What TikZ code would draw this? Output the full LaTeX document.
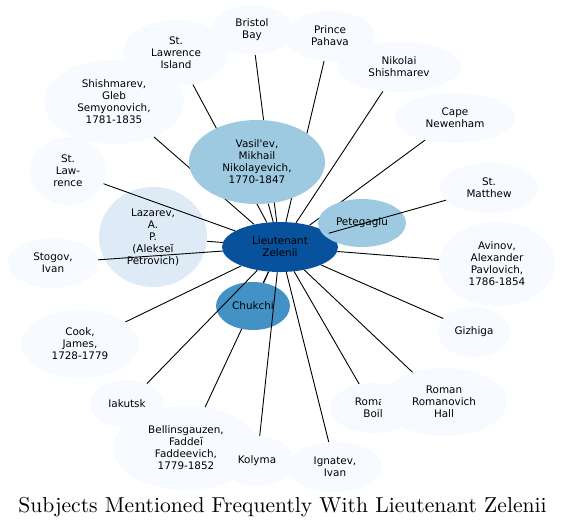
\documentclass[tikz,border=0pt]{standalone}
\usepackage{graphicx}
\usepackage{fontspec}
\newfontfamily\dv{DejaVu Sans}
\usetikzlibrary{shapes.geometric}
\pgfdeclarelayer{bg}\pgfdeclarelayer{fg}\pgfsetlayers{bg,main,fg}
\definecolor{b1}{HTML}{F7FBFF}
\definecolor{b2}{HTML}{DEEBF7}
\definecolor{b4}{HTML}{9ECAE1}
\definecolor{b6}{HTML}{4292C6}
\definecolor{b8}{HTML}{08519C}
\tikzset{
  ell/.style={ellipse, inner sep=0pt, align=center, draw=none, fill=b1,
    font=\dv\fontsize{10.4}{12}\selectfont},
  edge/.style={line width=0.9pt, black},
  sz/.style 2 args={minimum width=#1pt, minimum height=#2pt}
}
\begin{document}
\begin{tikzpicture}[x=1pt,y=-1pt]
\useasboundingbox (0,0) rectangle (565,528);
% nodes
\node[ell, fill=b8, sz={116}{50}] (c) at (280,247) {Lieutenant\\Zelenii};
\node[ell, fill=b4, sz={136}{84}] (vas) at (257,162) {Vasil'ev,\\Mikhail\\Nikolayevich,\\1770-1847};
\node[ell, fill=b2, sz={108}{100}] (laz) at (153,237) {Lazarev,\\A.\\P.\\(Alekseĭ\\Petrovich)};
\node[ell, fill=b4, sz={88}{48}] (pet) at (362,223) {Petegaglu};
\node[ell, fill=b6, sz={74}{48}] (chu) at (253,306) {Chukchi};
\node[ell, sz={80}{50}] (bri) at (252,30) {Bristol\\Bay};
\node[ell, sz={140}{84}] (shg) at (114,102) {Shishmarev,\\Gleb\\Semyonovich,\\1781-1835};
\node[ell, sz={106}{66}] (sli) at (176,53) {St.\\Lawrence\\Island};
\node[ell, sz={76}{68}] (stl) at (68,171) {St.\\Law-\\rence};
\node[ell, sz={90}{50}] (sto) at (53,263) {Stogov,\\Ivan};
\node[ell, sz={118}{68}] (coo) at (80,344) {Cook,\\James,\\1728-1779};
\node[ell, sz={74}{48}] (iak) at (127,404) {Iakutsk};
\node[ell, sz={146}{84}] (bel) at (186,448) {Bellinsgauzen,\\Faddeĭ\\Faddeevich,\\1779-1852};
\node[ell, sz={72}{50}] (kol) at (257,461) {Kolyma};
\node[ell, sz={94}{50}] (ign) at (335,467) {Ignatev,\\Ivan};
\node[ell, sz={86}{50}] (rbo) at (373,408) {Roman\\Boil};
\node[ell, sz={126}{68}] (rrh) at (444,402) {Roman\\Romanovich\\Hall};
\node[ell, sz={72}{50}] (giz) at (474,332) {Gizhiga};
\node[ell, sz={116}{84}] (avi) at (497,264) {Avinov,\\Alexander\\Pavlovich,\\1786-1854};
\node[ell, sz={98}{50}] (stm) at (489,188) {St.\\Matthew};
\node[ell, sz={120}{50}] (cap) at (455,118) {Cape\\Newenham};
\node[ell, sz={124}{50}] (nik) at (399,67) {Nikolai\\Shishmarev};
\node[ell, sz={90}{50}] (pri) at (330,36) {Prince\\Pahava};
% title
\node[anchor=base, inner sep=0pt] (title) at (282.5,512) {\scalebox{2.16}{\fontsize{10}{12}\selectfont Subjects Mentioned Frequently With Lieutenant Zelenii}};
% edges under nodes
\begin{pgfonlayer}{bg}
\fill[white] (0,0) rectangle (565,528);
\foreach \n in {vas,laz,pet,chu,bri,shg,sli,coo,bel,ign,rbo,rrh,giz,avi,cap,nik,pri}
  \draw[edge] (c) -- (\n);
\end{pgfonlayer}
% edges over nodes
\begin{pgfonlayer}{fg}
\foreach \n in {stl,sto,stm,kol,iak}
  \draw[edge] (c) -- (\n);
\end{pgfonlayer}
\end{tikzpicture}
\end{document}
